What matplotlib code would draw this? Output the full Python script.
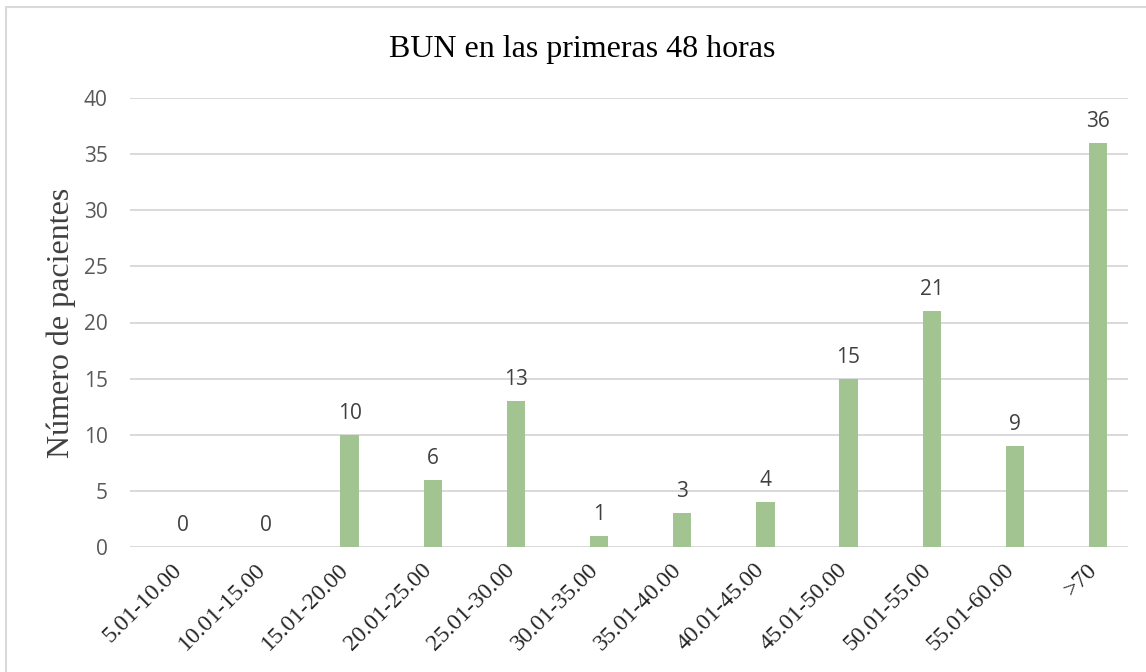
import matplotlib
matplotlib.use('Agg')
import matplotlib.pyplot as plt
import matplotlib.patches as patches
import numpy as np

# Datos
categorias = ['5.01-10.00', '10.01-15.00', '15.01-20.00', '20.01-25.00', '25.01-30.00',
              '30.01-35.00', '35.01-40.00', '40.01-45.00', '45.01-50.00', '50.01-55.00',
              '55.01-60.00', '>70']
pacientes = [0, 0, 10, 6, 13, 1, 3, 4, 15, 21, 9, 36]
y_ticks = [0, 5, 10, 15, 20, 25, 30, 35, 40]

fig = plt.figure(figsize=(11.46, 6.72), dpi=100)
ax = fig.add_axes([130 / 1146, 1 - 547 / 672, 998 / 1146, 449 / 672])

x = np.arange(len(categorias))
desplazamiento = 0.14  # las barras quedan algo a la derecha del centro
barras = ax.bar(x + desplazamiento, pacientes, width=0.22, color='#A1C490', zorder=3)

for xi, v in zip(x, pacientes):
    ax.annotate(str(v), (xi + desplazamiento, v), xytext=(0, 8), textcoords='offset points',
                ha='center', va='bottom', fontsize=15, color='#404040', family='Open Sans')

ax.set_xlim(-0.5, len(categorias) - 0.5)
ax.set_ylim(0, 40)
ax.set_yticks(y_ticks)
ax.yaxis.grid(True, color='#D9D9D9', linewidth=1.4, zorder=0)
ax.set_axisbelow(True)
for lado in ['top', 'right', 'left', 'bottom']:
    ax.spines[lado].set_visible(False)
ax.tick_params(axis='both', length=0)
ax.tick_params(axis='y', pad=16)
for t in ax.get_yticklabels():
    t.set_fontsize(15)
    t.set_color('#595959')
    t.set_family('Open Sans')

ax.set_xticks(x)
ax.set_xticklabels(categorias, rotation=45, ha='right', rotation_mode='anchor',
                   fontsize=17, family='Liberation Serif', color='#262626')
ax.tick_params(axis='x', pad=9)

ax.set_ylabel('Número de pacientes', fontsize=23, family='Liberation Serif',
              color='#404040')
ax.yaxis.set_label_coords(-54 / 998, 0.5)

fig.text(582 / 1146, 1 - 50 / 672, 'BUN en las primeras 48 horas', ha='center', va='center',
         fontsize=23, family='Liberation Serif', color='#000000')

# Borde del gráfico
borde = patches.Rectangle((6 / 1146, -0.1), 1.2, 1 - 7 / 672 + 0.1, transform=fig.transFigure,
                          fill=False, edgecolor='#D9D9D9', linewidth=1.5)
fig.patches.append(borde)

fig.savefig('out.png', dpi=100, facecolor='white')
